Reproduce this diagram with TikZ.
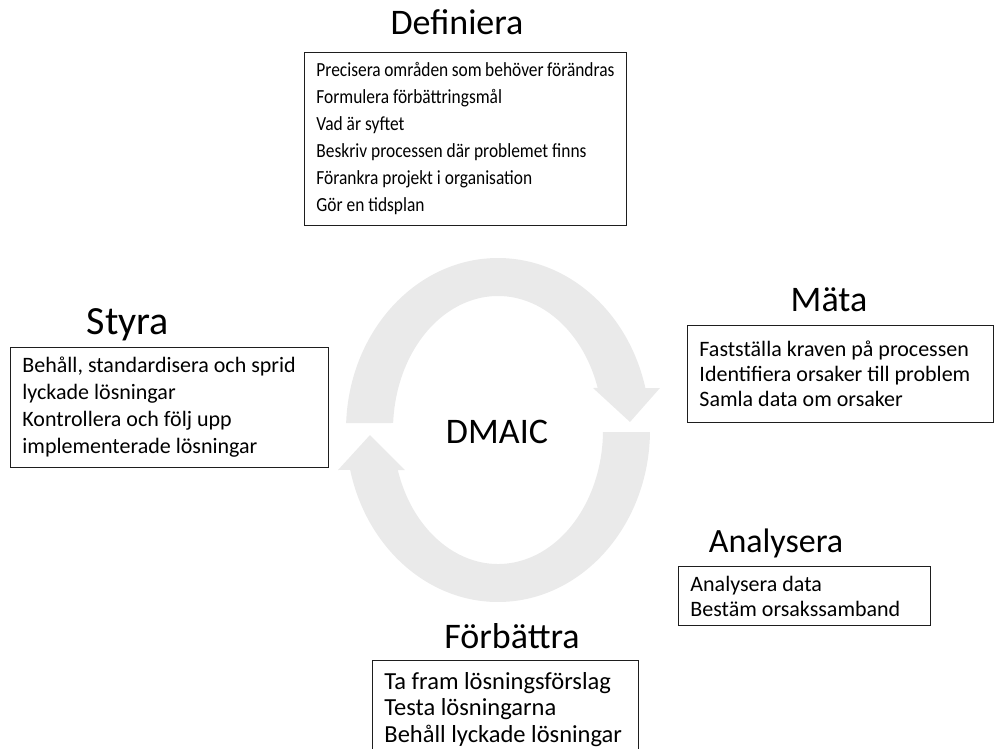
\documentclass[tikz,border=0pt]{standalone}
\usepackage{fontspec}
\setmainfont{Carlito}
\newfontfamily\narrowfont[FakeStretch=0.87]{Carlito}
\definecolor{ringgray}{RGB}{234,234,234}
\definecolor{boxline}{RGB}{30,30,30}
\begin{document}
\begin{tikzpicture}[x=1pt,y=-1pt,
  listbox/.style={draw=boxline, line width=0.9pt, anchor=north west, align=flush left,
    inner xsep=12pt, inner ysep=0pt, font=\fontsize{22}{27}\selectfont},
  heading/.style={font=\fontsize{36}{40}\selectfont},
  ring/.style={fill=ringgray, draw=none}]
\useasboundingbox (0,0) rectangle (994,748);

% the two curved arrows of the cycle
\coordinate (c) at (498,430);
\fill[ring] ([shift={(c)}]182.3:152 and 172)
  arc[start angle=182.3, end angle=345.9, x radius=152, y radius=172]
  -- (660,388) -- (630,422) -- (593,388)
  -- ([shift={(c)}]341.7:105 and 134)
  arc[start angle=341.7, end angle=183, x radius=105, y radius=134] -- cycle;
\fill[ring] ([shift={(c)}]0.7:152 and 172)
  arc[start angle=0.7, end angle=166.6, x radius=152, y radius=172]
  -- (338,470) -- (370,435) -- (405,470)
  -- ([shift={(c)}]162.6:105 and 134)
  arc[start angle=162.6, end angle=0.9, x radius=105, y radius=134] -- cycle;

\node[heading] (dmaic) at (497,432) {DMAIC};

% Definiera
\node[heading] (tdef) at (457,22) {Definiera};
\node[listbox, font=\narrowfont\fontsize{20}{27}\selectfont, text width=298pt, minimum height=173pt] (bdef) at (304,52)
  {Precisera områden som behöver förändras\\
   Formulera förbättringsmål\\
   Vad är syftet\\
   Beskriv processen där problemet finns\\
   Förankra projekt i organisation\\
   Gör en tidsplan};

% Mäta
\node[heading] (tmat) at (829,300) {Mäta};
\node[listbox, font=\fontsize{22}{25}\selectfont, text width=282pt, minimum height=97pt] (bmat) at (687,325)
  {Fastställa kraven på processen\\
   Identifiera orsaker till problem\\
   Samla data om orsaker};

% Styra
\node[heading, font=\fontsize{40}{44}\selectfont] (tsty) at (128,325) {Styra};
\node[listbox, text width=294pt, minimum height=120pt] (bsty) at (10,347)
  {Behåll, standardisera och sprid\\
   lyckade lösningar\\
   Kontrollera och följ upp\\
   implementerade lösningar};

% Analysera
\node[heading, font=\fontsize{34}{38}\selectfont] (tana) at (776,543) {Analysera};
\node[listbox, font=\fontsize{22}{25}\selectfont, text width=228pt, minimum height=59pt] (bana) at (678,566)
  {Analysera data\\
   Bestäm orsakssamband};

% Förbättra
\node[heading] (tfor) at (512,636) {Förbättra};
\node[listbox, font=\fontsize{24.5}{26.5}\selectfont, text width=242pt, inner ysep=12pt] (bfor) at (372,660)
  {Ta fram lösningsförslag\\
   Testa lösningarna\\
   Behåll lyckade lösningar};
\end{tikzpicture}
\end{document}
